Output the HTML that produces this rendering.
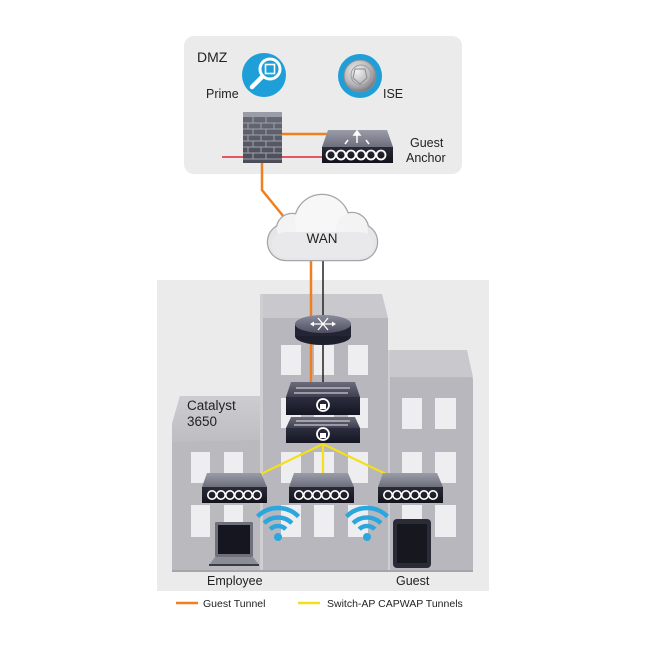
<!DOCTYPE html>
<html><head><meta charset="utf-8"><style>
html,body{margin:0;padding:0;background:#fff;}
svg{display:block;}
text{font-family:"Liberation Sans",Arial,sans-serif;fill:#222;}
</style></head><body>
<svg width="646" height="646" viewBox="0 0 646 646" xmlns="http://www.w3.org/2000/svg">
<defs>
<linearGradient id="ltop" x1="0" y1="0" x2="0" y2="1"><stop offset="0" stop-color="#cdcdd1"/><stop offset="1" stop-color="#bdbdc2"/></linearGradient>
<linearGradient id="apTop" x1="0" y1="0" x2="0" y2="1"><stop offset="0" stop-color="#9a9ca8"/><stop offset="1" stop-color="#6c6e7c"/></linearGradient>
<linearGradient id="apFront" x1="0" y1="0" x2="0" y2="1"><stop offset="0" stop-color="#2a2b38"/><stop offset="1" stop-color="#12131c"/></linearGradient>
<linearGradient id="swTop" x1="0" y1="0" x2="0" y2="1"><stop offset="0" stop-color="#6a6c7c"/><stop offset="1" stop-color="#3e4050"/></linearGradient>
<linearGradient id="swFront" x1="0" y1="0" x2="0" y2="1"><stop offset="0" stop-color="#2c2e40"/><stop offset="1" stop-color="#151622"/></linearGradient>
<linearGradient id="rtTop" x1="0" y1="0" x2="0" y2="1"><stop offset="0" stop-color="#8a8c9c"/><stop offset="1" stop-color="#4e5062"/></linearGradient>
<radialGradient id="coin" cx="0.4" cy="0.35" r="0.7"><stop offset="0" stop-color="#f2f2f2"/><stop offset="0.6" stop-color="#b8b8bc"/><stop offset="1" stop-color="#6e6e74"/></radialGradient>
<linearGradient id="fw" x1="0" y1="0" x2="0" y2="1"><stop offset="0" stop-color="#6a6c78"/><stop offset="1" stop-color="#4a4c58"/></linearGradient>
</defs>

<!-- DMZ box -->
<rect x="184" y="36" width="278" height="138" rx="10" fill="#ebebec"/>
<text x="197" y="62" font-size="14">DMZ</text>

<!-- Prime icon -->
<circle cx="264" cy="75" r="22" fill="#1e9fd8"/>
<circle cx="270" cy="69" r="10" fill="none" stroke="#fff" stroke-width="3"/>
<rect x="265.5" y="64.5" width="9" height="9" fill="none" stroke="#fff" stroke-width="1.6"/>
<line x1="262" y1="77" x2="252" y2="87" stroke="#fff" stroke-width="4.5" stroke-linecap="round"/>
<text x="206" y="98" font-size="12.5">Prime</text>

<!-- ISE icon -->
<circle cx="360" cy="76" r="22" fill="#1e9fd8"/>
<circle cx="360" cy="76" r="16" fill="url(#coin)" stroke="#8a8a90" stroke-width="1"/>
<circle cx="361" cy="75" r="10" fill="none" stroke="#9a9aa0" stroke-width="1"/>
<path d="M355 69 L365 69 L367 78 L360 84 L353 78 Z" fill="none" stroke="#8a8a90" stroke-width="1"/>
<text x="383" y="98" font-size="12.5">ISE</text>

<!-- DMZ lines -->
<line x1="222" y1="157" x2="243" y2="157" stroke="#e2262e" stroke-width="1.5"/>
<line x1="282" y1="157" x2="324" y2="157" stroke="#e2262e" stroke-width="1.5"/>
<line x1="282" y1="134" x2="328" y2="134" stroke="#f07f22" stroke-width="2.5"/>

<!-- Firewall -->
<rect x="243" y="112" width="39" height="51" fill="url(#fw)"/>
<rect x="243" y="112" width="39" height="5" fill="#9a9ca6"/>
<g stroke="#9fa1ab" stroke-width="1">
<line x1="243" y1="123" x2="282" y2="123"/><line x1="243" y1="129" x2="282" y2="129"/>
<line x1="243" y1="135" x2="282" y2="135"/><line x1="243" y1="141" x2="282" y2="141"/>
<line x1="243" y1="147" x2="282" y2="147"/><line x1="243" y1="153" x2="282" y2="153"/>
<line x1="243" y1="159" x2="282" y2="159"/>
<line x1="253" y1="117" x2="253" y2="123"/><line x1="266" y1="117" x2="266" y2="123"/>
<line x1="248" y1="123" x2="248" y2="129"/><line x1="261" y1="123" x2="261" y2="129"/><line x1="274" y1="123" x2="274" y2="129"/>
<line x1="253" y1="129" x2="253" y2="135"/><line x1="266" y1="129" x2="266" y2="135"/>
<line x1="248" y1="135" x2="248" y2="141"/><line x1="261" y1="135" x2="261" y2="141"/><line x1="274" y1="135" x2="274" y2="141"/>
<line x1="253" y1="141" x2="253" y2="147"/><line x1="266" y1="141" x2="266" y2="147"/>
<line x1="248" y1="147" x2="248" y2="153"/><line x1="261" y1="147" x2="261" y2="153"/><line x1="274" y1="147" x2="274" y2="153"/>
<line x1="253" y1="153" x2="253" y2="159"/><line x1="266" y1="153" x2="266" y2="159"/>
</g>

<!-- Guest anchor -->
<polygon points="328,130 387,130 393,147 322,147" fill="url(#apTop)"/>
<rect x="322" y="147" width="71" height="16" fill="url(#apFront)"/>
<g fill="none" stroke="#fff" stroke-width="1.8">
<circle cx="331" cy="155" r="4.5"/><circle cx="341" cy="155" r="4.5"/><circle cx="351" cy="155" r="4.5"/>
<circle cx="361" cy="155" r="4.5"/><circle cx="371" cy="155" r="4.5"/><circle cx="381" cy="155" r="4.5"/>
</g>
<g stroke="#fff" stroke-width="1.5" fill="#fff">
<line x1="357" y1="143" x2="357" y2="134"/><polygon points="354,135 357,131 360,135"/>
<line x1="345" y1="144" x2="348" y2="140"/><line x1="369" y1="144" x2="366" y2="140"/>
</g>
<text x="410" y="147" font-size="12.5">Guest</text>
<text x="406" y="162" font-size="12.5">Anchor</text>

<!-- Orange line firewall to cloud -->
<polyline points="262,163 262,190 288,222" fill="none" stroke="#f07f22" stroke-width="2.5"/>

<!-- Building panel -->
<rect x="157" y="280" width="332" height="311" fill="#ebebec"/>

<!-- Middle building -->
<polygon points="262,294 382,294 388,318 260,318" fill="#c9c9cd"/>
<rect x="260" y="318" width="128" height="254" fill="#b7b7bd"/>
<rect x="260" y="294" width="3" height="278" fill="#cfcfd3"/>
<!-- Right building -->
<polygon points="390,350 467,350 473,377 388,377" fill="#c9c9cd"/>
<rect x="388" y="377" width="85" height="195" rx="2" fill="#b7b7bd"/>
<rect x="388" y="350" width="2" height="222" fill="#cfcfd3"/>
<!-- Left building -->
<polygon points="180,396 260,396 260,572 172,572 172,424" fill="#b9b9be"/>
<polygon points="180,396 260,396 260,440 172,442 172,424" fill="url(#ltop)"/>

<!-- Windows -->
<g fill="#eeeef0">
<rect x="191" y="452" width="19" height="31"/><rect x="224" y="452" width="19" height="31"/>
<rect x="191" y="505" width="19" height="32"/><rect x="224" y="505" width="19" height="32"/>
<rect x="281" y="345" width="20" height="30"/><rect x="314" y="345" width="20" height="30"/><rect x="348" y="345" width="20" height="30"/>
<rect x="281" y="398" width="20" height="30"/><rect x="314" y="398" width="20" height="30"/><rect x="348" y="398" width="20" height="30"/>
<rect x="281" y="452" width="20" height="31"/><rect x="314" y="452" width="20" height="31"/><rect x="348" y="452" width="20" height="31"/>
<rect x="281" y="505" width="20" height="32"/><rect x="314" y="505" width="20" height="32"/><rect x="348" y="505" width="20" height="32"/>
<rect x="402" y="398" width="20" height="31"/><rect x="435" y="398" width="21" height="31"/>
<rect x="402" y="452" width="20" height="31"/><rect x="435" y="452" width="21" height="31"/>
<rect x="402" y="505" width="20" height="32"/><rect x="435" y="505" width="21" height="32"/>
</g>
<line x1="172" y1="571" x2="473" y2="571" stroke="#a5a5ab" stroke-width="2"/>

<!-- Vertical lines from cloud -->
<line x1="311" y1="250" x2="311" y2="386" stroke="#f07f22" stroke-width="2.5"/>
<line x1="323" y1="250" x2="323" y2="386" stroke="#222" stroke-width="1.5"/>

<!-- Cloud -->
<g stroke="#a6a6aa" stroke-width="2.5" fill="#a6a6aa">
<rect x="268" y="224" width="109" height="36" rx="18"/>
<circle cx="292" cy="229" r="15"/><circle cx="322" cy="222" r="27"/><circle cx="352" cy="229" r="16"/>
</g>
<g>
<rect x="268" y="224" width="109" height="36" rx="18" fill="#e6e6e8"/>
<circle cx="292" cy="229" r="15" fill="#f3f3f4"/><circle cx="322" cy="222" r="27" fill="#f7f7f8"/><circle cx="352" cy="229" r="16" fill="#f3f3f4"/>
<rect x="272" y="232" width="101" height="26" rx="13" fill="#e9e9eb"/>
</g>
<text x="322" y="243" font-size="13.5" text-anchor="middle" fill="#222">WAN</text>

<!-- Router -->
<ellipse cx="323" cy="336" rx="28" ry="9" fill="#1e1f2c"/>
<rect x="295" y="324" width="56" height="12" fill="#242534"/>
<ellipse cx="323" cy="324" rx="28" ry="9" fill="url(#rtTop)"/>
<g stroke="#fff" stroke-width="1.3">
<line x1="312" y1="324" x2="334" y2="324"/><line x1="318" y1="318" x2="328" y2="330"/><line x1="328" y1="318" x2="318" y2="330"/>
</g>
<g fill="#fff"><polygon points="310,324 314,321.5 314,326.5"/><polygon points="336,324 332,321.5 332,326.5"/></g>

<!-- Switch stack -->
<polygon points="291,382 355,382 360,397 286,397" fill="url(#swTop)"/>
<rect x="286" y="397" width="74" height="18" fill="url(#swFront)"/>
<g stroke="#e8e8ee" stroke-width="1.1"><line x1="296" y1="388" x2="350" y2="388"/><line x1="294" y1="393" x2="348" y2="393"/></g>
<circle cx="323" cy="405" r="6" fill="none" stroke="#fff" stroke-width="1.8"/>
<rect x="320" y="404" width="6" height="5" fill="#fff"/>
<polygon points="291,417 355,417 360,428 286,428" fill="url(#swTop)"/>
<rect x="286" y="428" width="74" height="15" fill="url(#swFront)"/>
<g stroke="#e8e8ee" stroke-width="1.1"><line x1="296" y1="421" x2="350" y2="421"/><line x1="294" y1="425" x2="348" y2="425"/></g>
<circle cx="323" cy="434" r="6" fill="none" stroke="#fff" stroke-width="1.8"/>
<rect x="320" y="433" width="6" height="5" fill="#fff"/>

<!-- Yellow lines -->
<g stroke="#f3df1c" stroke-width="2.2">
<line x1="323" y1="444" x2="261" y2="474"/>
<line x1="323" y1="444" x2="323" y2="474"/>
<line x1="323" y1="444" x2="386" y2="474"/>
</g>

<!-- APs -->
<g>
<polygon points="207,473 261,473 267,487 202,487" fill="url(#apTop)"/>
<rect x="202" y="487" width="65" height="16" fill="url(#apFront)"/>
<g fill="none" stroke="#fff" stroke-width="1.6">
<circle cx="212" cy="495" r="4.2"/><circle cx="221" cy="495" r="4.2"/><circle cx="230" cy="495" r="4.2"/>
<circle cx="239" cy="495" r="4.2"/><circle cx="248" cy="495" r="4.2"/><circle cx="257" cy="495" r="4.2"/>
</g>
</g>
<g transform="translate(87,0)">
<polygon points="207,473 261,473 267,487 202,487" fill="url(#apTop)"/>
<rect x="202" y="487" width="65" height="16" fill="url(#apFront)"/>
<g fill="none" stroke="#fff" stroke-width="1.6">
<circle cx="212" cy="495" r="4.2"/><circle cx="221" cy="495" r="4.2"/><circle cx="230" cy="495" r="4.2"/>
<circle cx="239" cy="495" r="4.2"/><circle cx="248" cy="495" r="4.2"/><circle cx="257" cy="495" r="4.2"/>
</g>
</g>
<g transform="translate(176,0)">
<polygon points="207,473 261,473 267,487 202,487" fill="url(#apTop)"/>
<rect x="202" y="487" width="65" height="16" fill="url(#apFront)"/>
<g fill="none" stroke="#fff" stroke-width="1.6">
<circle cx="212" cy="495" r="4.2"/><circle cx="221" cy="495" r="4.2"/><circle cx="230" cy="495" r="4.2"/>
<circle cx="239" cy="495" r="4.2"/><circle cx="248" cy="495" r="4.2"/><circle cx="257" cy="495" r="4.2"/>
</g>
</g>

<!-- Wifi icons -->
<g fill="none" stroke="#2ba7dd" stroke-width="4.5" stroke-linecap="butt">
<path d="M 270.2 529.2 A 11 11 0 0 1 285.8 529.2"/>
<path d="M 264.1 523.1 A 20 20 0 0 1 291.9 523.1"/>
<path d="M 257.5 516.5 A 29 29 0 0 1 298.5 516.5"/>
<path d="M 359.2 529.2 A 11 11 0 0 1 374.8 529.2"/>
<path d="M 353.1 523.1 A 20 20 0 0 1 380.9 523.1"/>
<path d="M 346.5 516.5 A 29 29 0 0 1 387.5 516.5"/>
</g>
<circle cx="278" cy="537" r="4" fill="#2ba7dd"/>
<circle cx="367" cy="537" r="4" fill="#2ba7dd"/>

<!-- Laptop -->
<rect x="215" y="522" width="38" height="35" rx="1.5" fill="#6e707c"/>
<rect x="218" y="525" width="32" height="29" fill="#15161f"/>
<polygon points="215,557 253,557 259,565 209,565" fill="#8a8c96"/>
<rect x="209" y="564" width="50" height="2" fill="#3a3b46"/>

<!-- Tablet -->
<rect x="393" y="519" width="38" height="49" rx="4" fill="#2a2b36"/>
<rect x="397" y="524" width="30" height="39" fill="#17181f"/>

<!-- Labels -->
<text x="187" y="410" font-size="13.5">Catalyst</text>
<text x="187" y="426" font-size="13.5">3650</text>
<text x="207" y="585" font-size="12.5">Employee</text>
<text x="396" y="585" font-size="12.5">Guest</text>

<!-- Legend -->
<line x1="176" y1="603" x2="198" y2="603" stroke="#f07f22" stroke-width="2.5"/>
<text x="203" y="607" font-size="10.5">Guest Tunnel</text>
<line x1="298" y1="603" x2="320" y2="603" stroke="#f3df1c" stroke-width="2.5"/>
<text x="327" y="607" font-size="10.5">Switch-AP CAPWAP Tunnels</text>
</svg>
</body></html>
